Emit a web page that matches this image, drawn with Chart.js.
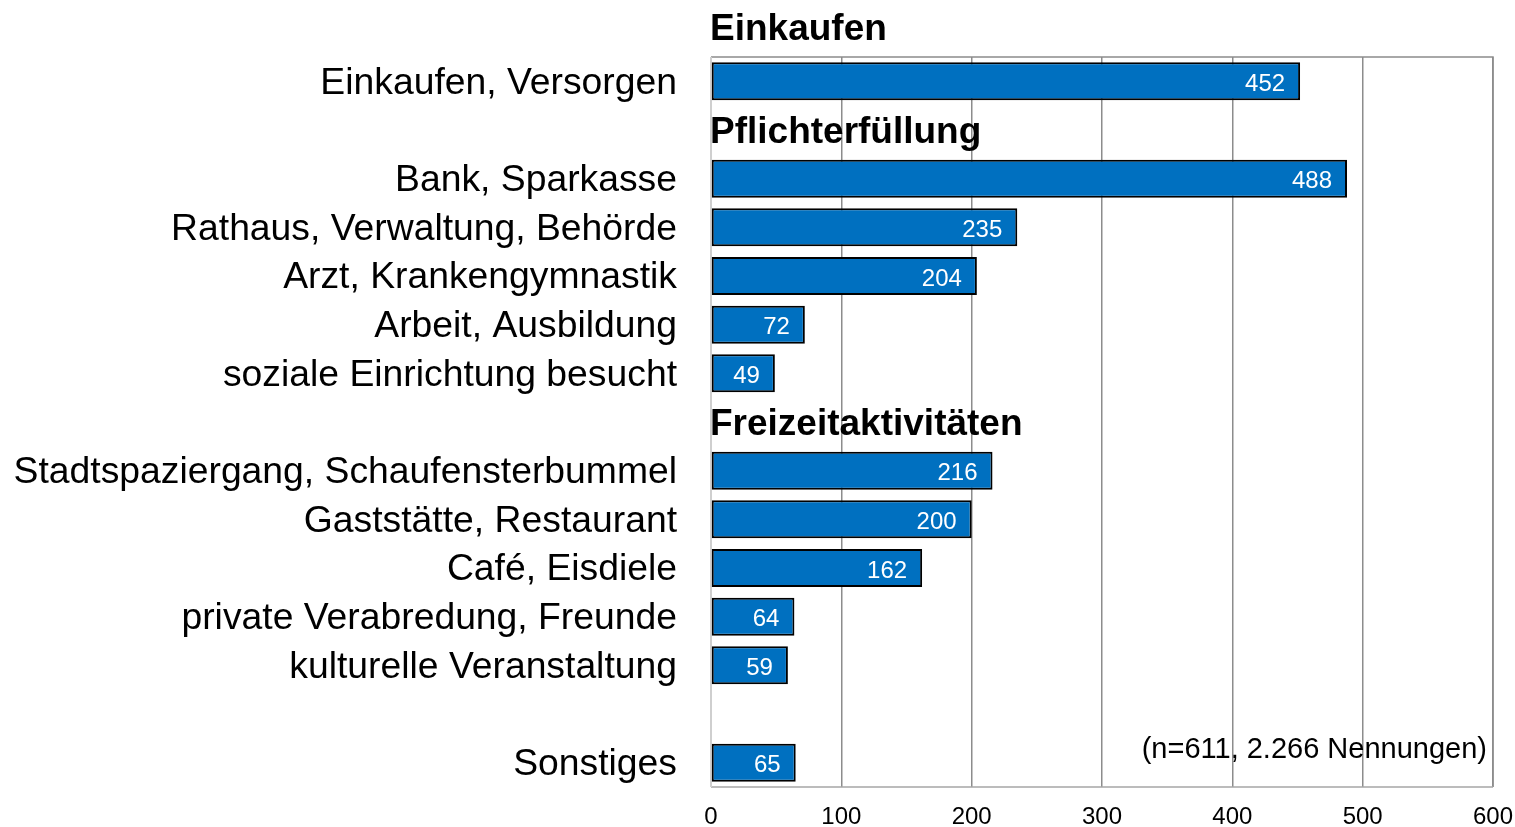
<!DOCTYPE html>
<html>
<head>
<meta charset="utf-8">
<script src="https://cdn.jsdelivr.net/npm/chart.js@4.4.1/dist/chart.umd.min.js"></script>
<style>
  html, body { margin: 0; padding: 0; background: #ffffff; }
  #wrap { width: 1515px; height: 827px; position: relative; }
</style>
</head>
<body>
<div id="wrap"><canvas id="c" width="1515" height="827"></canvas></div>
<script>
// ---- data ----
const categories = [
  'Einkaufen, Versorgen',
  '',
  'Bank, Sparkasse',
  'Rathaus, Verwaltung, Behörde',
  'Arzt, Krankengymnastik',
  'Arbeit, Ausbildung',
  'soziale Einrichtung besucht',
  '',
  'Stadtspaziergang, Schaufensterbummel',
  'Gaststätte, Restaurant',
  'Café, Eisdiele',
  'private Verabredung, Freunde',
  'kulturelle Veranstaltung',
  '',
  'Sonstiges'
];
const nennungen = [452, null, 488, 235, 204, 72, 49, null, 216, 200, 162, 64, 59, null, 65];
const groupNames = ['Einkaufen', 'Pflichterfüllung', 'Freizeitaktivitäten'];
const groupRows = [-1, 1, 7];
const xTicks = [0, 100, 200, 300, 400, 500, 600];
const note = '(n=611, 2.266 Nennungen)';

const FONT = "'Liberation Sans', Arial, Helvetica, sans-serif";

const framePlugin = {
  id: 'frame',
  beforeDatasetsDraw(chart) {
    const { ctx, chartArea: a } = chart;
    ctx.save();
    ctx.lineWidth = 1.5;
    ctx.strokeStyle = '#8c8c8c';
    ctx.beginPath();
    ctx.moveTo(a.left, a.top); ctx.lineTo(a.right, a.top); ctx.lineTo(a.right, a.bottom);
    ctx.stroke();
    ctx.strokeStyle = '#a6a6a6';
    ctx.beginPath();
    ctx.moveTo(a.left, a.bottom); ctx.lineTo(a.right, a.bottom);
    ctx.stroke();
    ctx.strokeStyle = '#cfcfcf';
    ctx.lineWidth = 2;
    ctx.beginPath();
    ctx.moveTo(a.left, a.top); ctx.lineTo(a.left, a.bottom);
    ctx.stroke();
    ctx.restore();
  }
};

const labelPlugin = {
  id: 'labels',
  afterDatasetsDraw(chart) {
    const { ctx, chartArea: a } = chart;
    const meta = chart.getDatasetMeta(0);
    const ys = chart.scales.y;
    ctx.save();
    // value labels
    ctx.font = '24px ' + FONT;
    ctx.fillStyle = '#ffffff';
    ctx.textAlign = 'right';
    ctx.textBaseline = 'middle';
    meta.data.forEach((bar, i) => {
      const v = nennungen[i];
      if (v === null) return;
      ctx.fillText(String(v), bar.x - 15, bar.y + 3);
    });
    // group headers
    ctx.font = 'bold 37px ' + FONT;
    ctx.fillStyle = '#000000';
    ctx.textAlign = 'left';
    ctx.textBaseline = 'alphabetic';
    const step = ys.getPixelForValue(1) - ys.getPixelForValue(0);
    groupNames.forEach((name, k) => {
      const r = groupRows[k];
      let y = r >= 0 ? ys.getPixelForValue(r) : ys.getPixelForValue(0) + r * step - 6;
      ctx.fillText(name, a.left - 1, y + 13);
    });
    // note
    ctx.font = '29px ' + FONT;
    ctx.textAlign = 'right';
    ctx.textBaseline = 'middle';
    ctx.fillText(note, a.right - 6, a.bottom - 37);
    ctx.restore();
  }
};

new Chart(document.getElementById('c'), {
  type: 'bar',
  data: {
    labels: categories,
    datasets: [{
      data: nennungen,
      backgroundColor: '#0070C0',
      borderColor: '#000000',
      borderWidth: 2,
      borderSkipped: false,
      barPercentage: 0.78,
      categoryPercentage: 1.0
    }]
  },
  options: {
    indexAxis: 'y',
    responsive: false,
    animation: false,
    devicePixelRatio: 1,
    layout: { padding: { top: 57, right: 22, bottom: 0, left: 0 } },
    plugins: { legend: { display: false }, tooltip: { enabled: false }, title: { display: false } },
    scales: {
      x: {
        min: 0, max: 600,
        afterBuildTicks(scale) { scale.ticks = xTicks.map(v => ({ value: v })); },
        afterFit(scale) { scale.height = 40; scale.paddingLeft = 0; scale.paddingRight = 0; },
        grid: { color: '#8c8c8c', lineWidth: 1.5, drawTicks: false },
        border: { display: false },
        ticks: { color: '#000000', font: { family: FONT, size: 24 }, padding: 16, maxRotation: 0 }
      },
      y: {
        afterFit(scale) { scale.width = 711; scale.paddingTop = 0; scale.paddingBottom = 0; },
        grid: { display: false, drawTicks: false },
        border: { display: false },
        ticks: { color: '#000000', font: { family: FONT, size: 37.3 }, padding: 34, autoSkip: false, labelOffset: 2 }
      }
    }
  },
  plugins: [framePlugin, labelPlugin]
});
</script>
</body>
</html>
